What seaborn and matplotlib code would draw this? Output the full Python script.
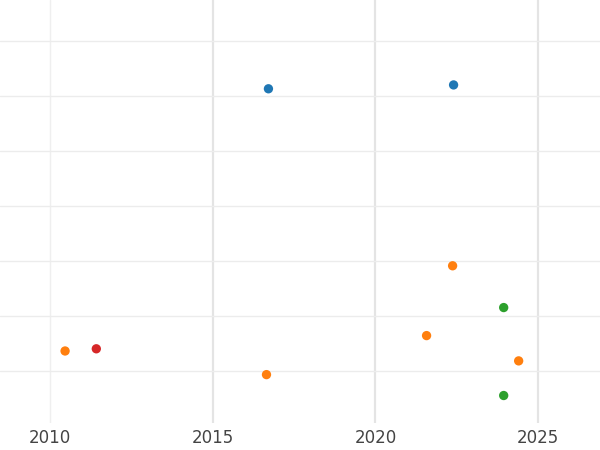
import matplotlib
matplotlib.use("Agg")
import matplotlib.pyplot as plt
import matplotlib.ticker as ticker
import seaborn as sns
import pandas as pd

# data
years = [2016.71, 2022.40, 2022.37, 2021.57, 2010.46, 2024.40, 2016.65, 2023.94, 2023.94, 2011.42]
values = [6.13, 6.20, 2.91, 1.64, 1.36, 1.18, 0.93, 2.15, 0.55, 1.40]
groups = ["a", "a", "b", "b", "b", "b", "b", "c", "c", "d"]
colors = {"a": "#1f77b4", "b": "#ff7f0e", "c": "#2ca02c", "d": "#d62728"}

df = pd.DataFrame({"year": years, "value": values, "group": groups})

sns.set_style("white")
fig, ax = plt.subplots(figsize=(6, 4.5), dpi=100)
fig.subplots_adjust(left=0, right=1, top=1, bottom=0.06)

sns.scatterplot(data=df, x="year", y="value", hue="group", palette=colors,
                s=45, edgecolor="none", legend=False, ax=ax, zorder=3)

ax.set_xlim(2008.46, 2026.9)
ax.set_ylim(0.05, 7.745)
ax.xaxis.set_major_locator(ticker.FixedLocator([2010, 2015, 2020, 2025]))
ax.yaxis.set_major_locator(ticker.MultipleLocator(1))
ax.grid(False, axis="x")
for yr in [2015, 2020, 2025]:
    ax.axvline(yr, color="#e4e4e4", linewidth=1.6, zorder=0)
ax.axvline(2010, color="#efefef", linewidth=1.0, zorder=0)
ax.grid(True, axis="y", color="#ececec", linewidth=1.0)
ax.set_yticklabels([])
ax.tick_params(axis="y", length=0)
ax.tick_params(axis="x", length=0, labelsize=12, labelcolor="#444444", pad=4)
ax.set_xlabel("")
ax.set_ylabel("")
for s in ax.spines.values():
    s.set_visible(False)

fig.savefig("out.png", dpi=100, facecolor="white")
